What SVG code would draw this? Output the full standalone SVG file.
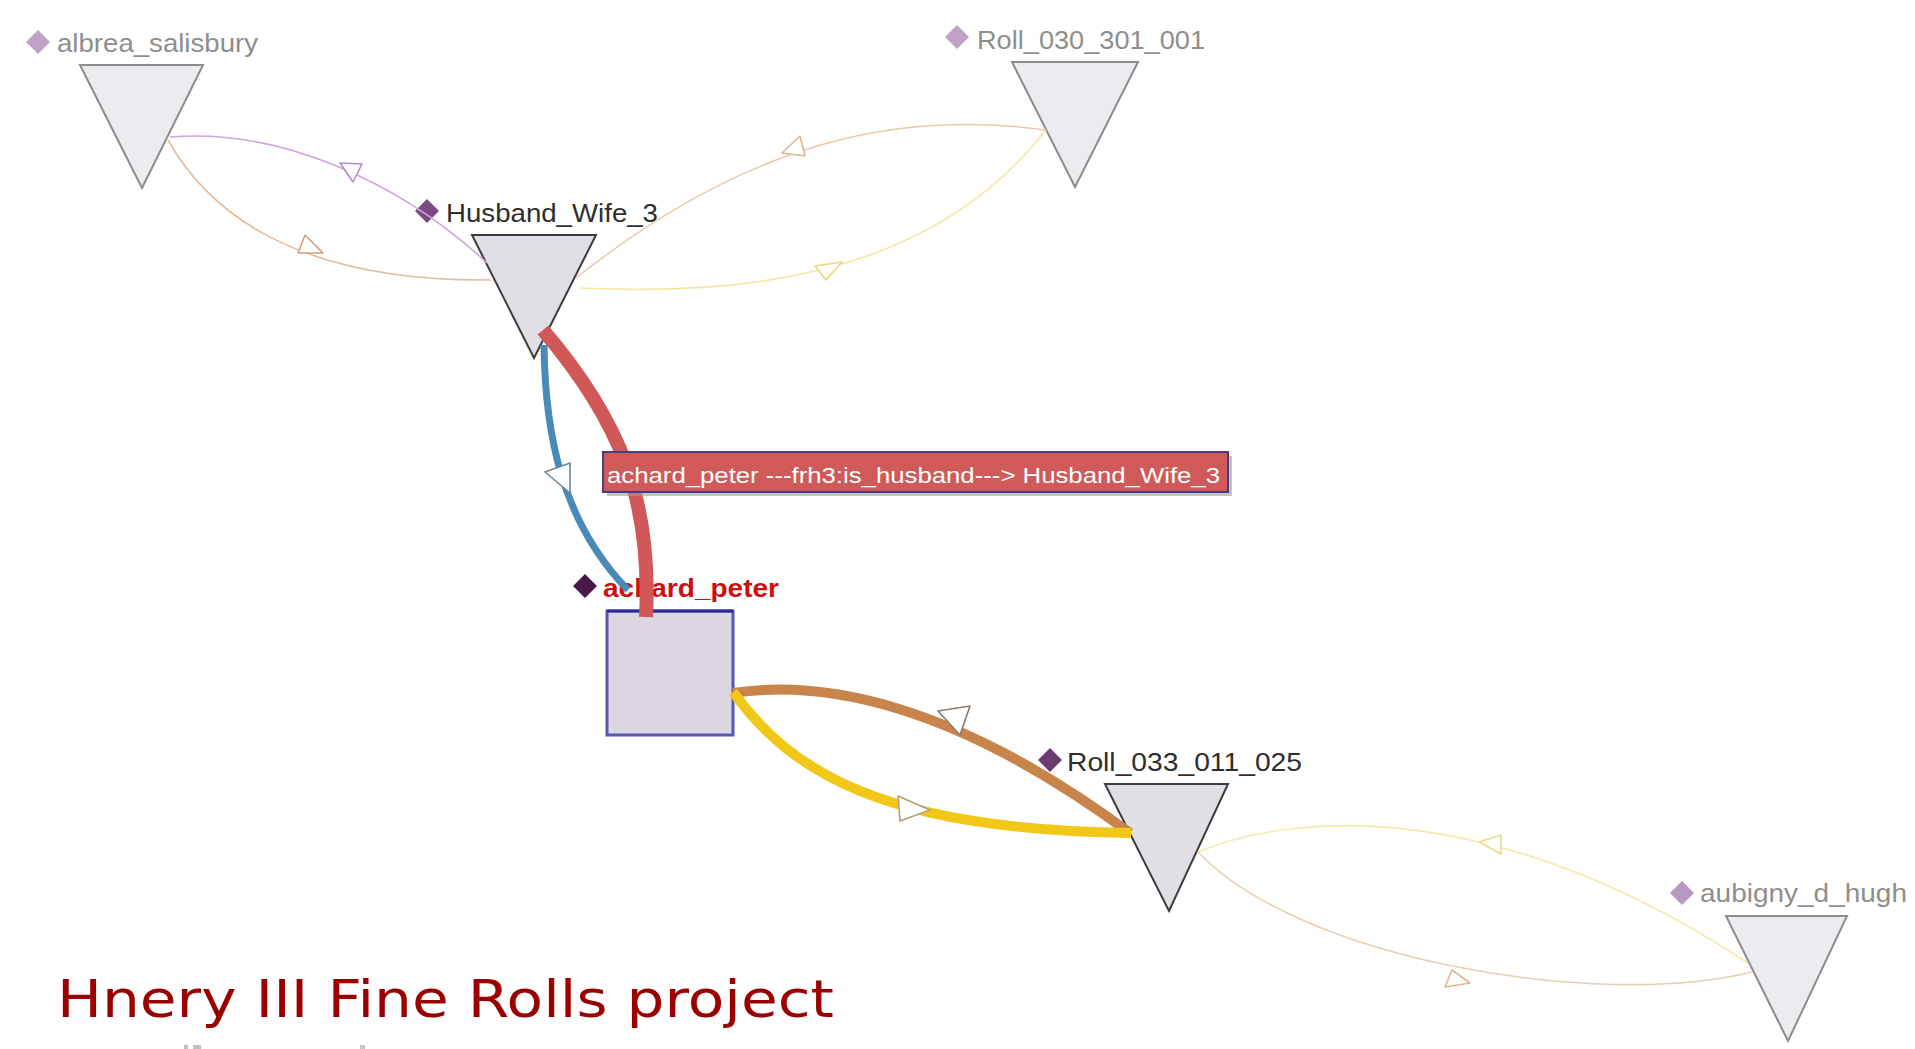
<svg xmlns="http://www.w3.org/2000/svg" width="1915" height="1049" viewBox="0 0 1915 1049">
<style>
.lbl{font-family:"Liberation Sans",Arial,sans-serif;font-size:26px;}
.lite{fill:#8e8e8e;}
.dark{fill:#2e2e2e;}
.triL{fill:#ecebef;stroke:#8c8c8c;stroke-width:2;}
.triD{fill:#e2dee6;stroke:#3c3c3c;stroke-width:2;}
.edge{fill:none;}
.arr{fill:#ffffff;stroke-width:1.6;stroke-linejoin:round;}
</style>
<rect width="1915" height="1049" fill="#ffffff"/>

<g id="node-albrea_salisbury">
<polygon class="triL" points="80,65 203,65 142,188"/>
<polygon points="38,30 50,42 38,54 26,42" fill="#bfa2c6"/>
<text class="lbl lite" x="57" y="52" textLength="201" lengthAdjust="spacingAndGlyphs">albrea_salisbury</text>
</g>

<g id="node-Roll_030_301_001">
<polygon class="triL" points="1012,62 1138,62 1075,187"/>
<polygon points="957,25 969,37 957,49 945,37" fill="#bfa2c6"/>
<text class="lbl lite" x="977" y="49" textLength="228" lengthAdjust="spacingAndGlyphs">Roll_030_301_001</text>
</g>

<g id="node-Husband_Wife_3">
<polygon class="triD" points="472,235 596,235 534,358"/>
<polygon points="427,199 439,211 427,223 415,211" fill="#7b4a80"/>
<text class="lbl dark" x="446" y="222" textLength="212" lengthAdjust="spacingAndGlyphs">Husband_Wife_3</text>
</g>

<g id="node-achard_peter">
<rect x="607" y="611" width="126" height="124" fill="#dcd6e0" stroke="#5656b8" stroke-width="3"/>
<line x1="607" y1="611" x2="733" y2="611" stroke="#2a2a9a" stroke-width="3"/>
<polygon points="585,574 597,586 585,598 573,586" fill="#4a1848"/>
<text class="lbl" x="603" y="597" font-weight="bold" font-size="25" fill="#cc1010" textLength="176" lengthAdjust="spacingAndGlyphs">achard_peter</text>
</g>

<g id="node-Roll_033_011_025">
<polygon class="triD" points="1105,784 1228,784 1169,911"/>
<polygon points="1050,748 1062,760 1050,772 1038,760" fill="#6a3a70"/>
<text class="lbl dark" x="1067" y="771" font-size="27" textLength="235" lengthAdjust="spacingAndGlyphs">Roll_033_011_025</text>
</g>

<g id="node-aubigny_d_hugh">
<polygon class="triL" points="1726,916 1847,916 1788,1041"/>
<polygon points="1682,881 1694,893 1682,905 1670,893" fill="#b898c0"/>
<text class="lbl lite" x="1700" y="902" textLength="207" lengthAdjust="spacingAndGlyphs">aubigny_d_hugh</text>
</g>

<g id="connectors">
<path class="edge" d="M170,137 C280,128 400,182 487,263" stroke="#cfa6dc" stroke-width="1.6"/>
<polygon class="arr" points="340,163 362,164 353,182" stroke="#b88ac8"/>
<path class="edge" d="M168,140 C210,215 300,282 491,280" stroke="#e2bc9e" stroke-width="1.6"/>
<polygon class="arr" points="305,235 298,253 323,253" stroke="#caa080"/>
<path class="edge" d="M1046,130 C900,110 750,140 576,278" stroke="#e8caa8" stroke-width="1.5"/>
<polygon class="arr" points="800,136 782,153 805,156" stroke="#dcb88c"/>
<path class="edge" d="M1046,130 C960,240 820,300 580,288" stroke="#f6e7a2" stroke-width="1.6"/>
<polygon class="arr" points="815,266 842,262 826,280" stroke="#eed478"/>
<path class="edge" d="M1198,852 C1300,810 1500,800 1748,963" stroke="#f6eaa8" stroke-width="1.6"/>
<polygon class="arr" points="1501,835 1501,854 1479,842" stroke="#ecdc88"/>
<path class="edge" d="M1198,852 C1300,960 1600,1010 1752,972" stroke="#e8ceb2" stroke-width="1.6"/>
<polygon class="arr" points="1452,970 1445,987 1470,983" stroke="#e0b890"/>
<path class="edge" d="M544,345 C545,430 560,520 628,590" stroke="#4a8ab8" stroke-width="7"/>
<polygon class="arr" points="545,472 570,463 570,493" stroke="#6a8898"/>
<path class="edge" d="M646,617 C652,500 620,420 543,330" stroke="#d05858" stroke-width="14"/>
<path class="edge" d="M733,693 C820,680 950,700 1130,833" stroke="#c8844a" stroke-width="10"/>
<polygon class="arr" points="938,711 970,706 960,735" stroke="#8a7a70"/>
<path class="edge" d="M733,692 C790,770 880,830 1131,833" stroke="#f2c818" stroke-width="10"/>
<polygon class="arr" points="898,796 900,821 930,810" stroke="#b0a070"/>
</g>

<g id="tooltip">
<rect x="607" y="456" width="625" height="40" fill="#9a9aae" opacity="0.6"/>
<rect x="603" y="452" width="625" height="40" fill="#d05a5a" stroke="#4a3a80" stroke-width="2"/>
<text x="607" y="483" font-family="'Liberation Sans',Arial,sans-serif" font-size="22" fill="#ffffff" textLength="613" lengthAdjust="spacingAndGlyphs">achard_peter ---frh3:is_husband---&gt; Husband_Wife_3</text>
</g>

<g id="title">
<text x="57" y="1017" font-family="'DejaVu Sans',Verdana,sans-serif" font-size="52" fill="#9a0000" textLength="777" lengthAdjust="spacingAndGlyphs">Hnery III Fine Rolls project</text>
<rect x="184" y="1045" width="4" height="4" fill="#c0c0c0"/>
<rect x="193" y="1045" width="8" height="4" fill="#c0c0c0"/>
<rect x="360" y="1045" width="5" height="4" fill="#c8c8c8"/>
</g>
</svg>
